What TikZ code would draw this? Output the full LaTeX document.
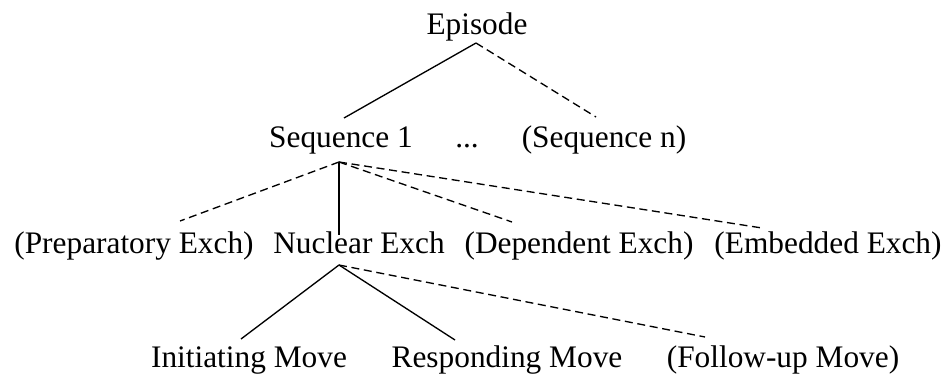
\documentclass[tikz,border=0pt]{standalone}
\usepackage{fontspec}
\setmainfont{Liberation Serif}
\usetikzlibrary{calc}

\tikzset{
  unit/.style={anchor=base, inner sep=0pt, font=\fontsize{23.5}{28}\selectfont},
  opt/.style={dash pattern=on 6pt off 3.5pt},
}

\begin{document}
\begin{tikzpicture}[x=0.75pt, y=-0.75pt, line width=1pt]
      \useasboundingbox (0,0) rectangle (948,374);

      % levels of the hierarchy
      \node[unit] (ep) at (477,35) {Episode};

      \node[unit] (seq1) at (341,147) {Sequence 1};
      \node[unit] (dots) at (467,147) {...};
      \node[unit] (seqn) at (604,147) {(Sequence n)};

      \node[unit] (prep) at (134,253) {(Preparatory Exch)};
      \node[unit] (nuc) at (359,253) {Nuclear Exch};
      \node[unit] (dep) at (579,253) {(Dependent Exch)};
      \node[unit] (emb) at (828,253) {(Embedded Exch)};

      \node[unit] (init) at (249,367) {Initiating Move};
      \node[unit] (resp) at (507,367) {Responding Move};
      \node[unit] (foll) at (783,367) {(Follow-up Move)};

      % branches
      \draw ($(ep.base)+(-1,8)$) -- ($(seq1.base)+(3,-29)$);
      \draw[opt] ($(ep.base)+(-1,8)$) -- ($(seqn.base)+(-8,-30)$);

      \draw[opt] ($(seq1.base)+(-2,15)$) -- ($(prep.base)+(46,-32)$);
      \draw ($(seq1.base)+(-2,15)$) -- ($(nuc.base)+(-20,-18)$);
      \draw[opt] ($(seq1.base)+(-2,15)$) -- ($(dep.base)+(-67,-31)$);
      \draw[opt] ($(seq1.base)+(-2,15)$) -- ($(emb.base)+(-66,-25)$);

      \draw ($(nuc.base)+(-20,12)$) -- ($(init.base)+(-8,-28)$);
      \draw ($(nuc.base)+(-20,12)$) -- ($(resp.base)+(-52,-27)$);
      \draw[opt] ($(nuc.base)+(-20,12)$) -- ($(foll.base)+(-78,-30)$);
    \end{tikzpicture}
\end{document}
